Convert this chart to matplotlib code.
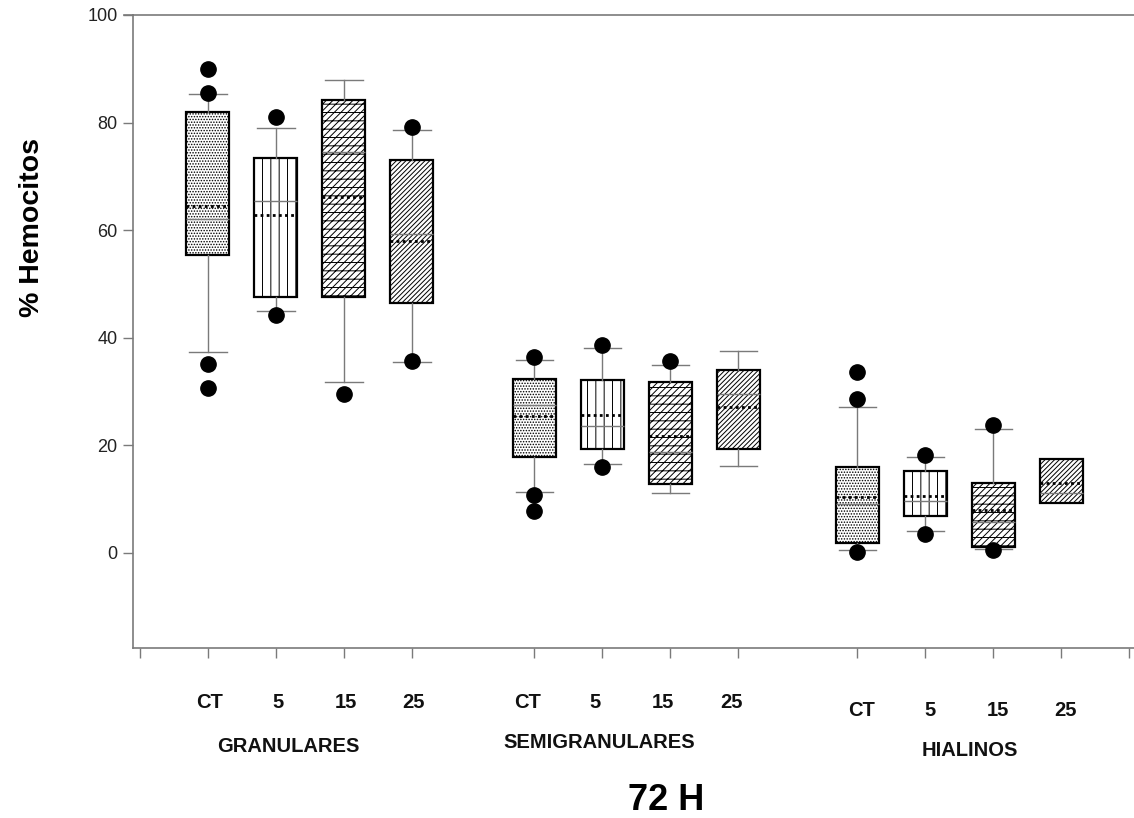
import matplotlib
matplotlib.use('Agg')
import matplotlib.pyplot as plt
import matplotlib.transforms as mtransforms

plt.rcParams['font.family'] = ['Liberation Sans', 'DejaVu Sans']
plt.rcParams['hatch.linewidth'] = 0.7

# data (% hemocytes, 72 h)
groups = ['GRANULARES', 'SEMIGRANULARES', 'HIALINOS']
treatments = ['CT', '5', '15', '25']

q1 = [55.4, 47.5, 47.5, 46.4, 17.9, 19.3, 12.8, 19.3, 1.9, 6.8, 1.1, 9.2]
q3 = [81.9, 73.4, 84.1, 73.0, 32.3, 32.1, 31.8, 33.9, 15.9, 15.2, 12.9, 17.4]
medians = [62.0, 65.5, 74.5, 59.3, 27.5, 23.6, 18.7, 29.5, 9.1, 9.7, 5.7, 11.2]
means = [64.4, 62.9, 66.2, 58.0, 25.5, 25.7, 21.8, 27.2, 10.3, 10.5, 7.9, 13.0]
whisk_lo = [37.3, 45.0, 31.8, 35.5, 11.3, 16.6, 11.1, 16.1, 0.6, 4.0, 0.7, 9.2]
whisk_hi = [85.3, 78.9, 88.0, 78.6, 35.9, 38.1, 35.0, 37.6, 27.2, 17.9, 23.1, 17.4]
outliers = [
    [90.0, 85.5, 35.1, 30.6], [81.1, 44.2], [29.6], [79.1, 35.7],
    [36.4, 10.8, 7.7], [38.7, 15.9], [35.7], [],
    [33.6, 28.6, 0.2], [18.2, 3.5], [23.8, 0.6], [],
]

hatches = ['......', '||', '--/////', '///////']

# layout
group_starts = [1.0, 5.8, 10.55]
positions = [g + i for g in group_starts for i in range(4)]

stats = []
for i in range(len(positions)):
    stats.append(dict(q1=q1[i], q3=q3[i], med=medians[i], mean=means[i],
                      whislo=whisk_lo[i], whishi=whisk_hi[i], fliers=outliers[i]))

fig = plt.figure(figsize=(11.34, 8.18), dpi=100)
ax = fig.add_axes([0.1173, 0.2078, 0.8827, 0.7739])

gray = '#7a7a7a'
bp = ax.bxp(stats, positions=positions, widths=0.63, patch_artist=True,
            showmeans=True, meanline=True, manage_ticks=False, capwidths=0.55,
            boxprops=dict(facecolor='white', edgecolor='black', linewidth=1.6),
            whiskerprops=dict(color=gray, linewidth=1.0),
            capprops=dict(color=gray, linewidth=1.0),
            medianprops=dict(color=gray, linewidth=1.0),
            meanprops=dict(color='black', linestyle=(0, (1, 1.2)), linewidth=2.0),
            flierprops=dict(marker='o', markerfacecolor='black', markeredgecolor='black',
                            markersize=11, linestyle='none'))

for i, box in enumerate(bp['boxes']):
    box.set_hatch(hatches[i % 4])
    if whisk_lo[i] == q1[i] and whisk_hi[i] == q3[i]:
        bp['caps'][2 * i].set_visible(False)
        bp['caps'][2 * i + 1].set_visible(False)

ax.set_xlim(-0.1, 14.62)
ax.set_ylim(-17.7, 100)
ax.set_yticks([0, 20, 40, 60, 80, 100])
ax.set_xticks([0] + positions + [14.55])
ax.set_xticklabels([])
ax.tick_params(axis='y', direction='out', length=7, width=1, color=gray,
               labelsize=13, labelcolor='#222222', pad=4)
ax.tick_params(axis='x', direction='out', length=7, width=1, color=gray)
for side in ['left', 'bottom', 'top']:
    ax.spines[side].set_color(gray)
    ax.spines[side].set_linewidth(1.2)
ax.spines['right'].set_visible(False)
# top border runs a little past the left axis
ax.plot([-0.009, 0], [1, 1], transform=ax.transAxes, color=gray, lw=1.2, clip_on=False)

ax.set_ylabel('% Hemocitos', fontsize=20.5, fontweight='bold')
ax.yaxis.set_label_coords(-0.088, 0.664)

trans = mtransforms.blended_transform_factory(ax.transData, fig.transFigure)
cat_y = [0.141, 0.141, 0.131]
cat_dx = [0.03, -0.1, 0.07]
grp_x = [2.19, 6.76, 12.2]
grp_y = [0.088, 0.092, 0.082]
for g in range(3):
    for i, t in enumerate(treatments):
        ax.text(positions[g * 4 + i] + cat_dx[g], cat_y[g], t, transform=trans,
                ha='center', va='center', fontsize=14.5, fontweight='bold', color='#111111')
    ax.text(grp_x[g], grp_y[g], groups[g], transform=trans, ha='center', va='center',
            fontsize=14.5, fontweight='bold', color='#111111')

fig.text(0.587, 0.022, '72 H', ha='center', va='center', fontsize=26, fontweight='bold')

fig.savefig('out.png', dpi=100)
